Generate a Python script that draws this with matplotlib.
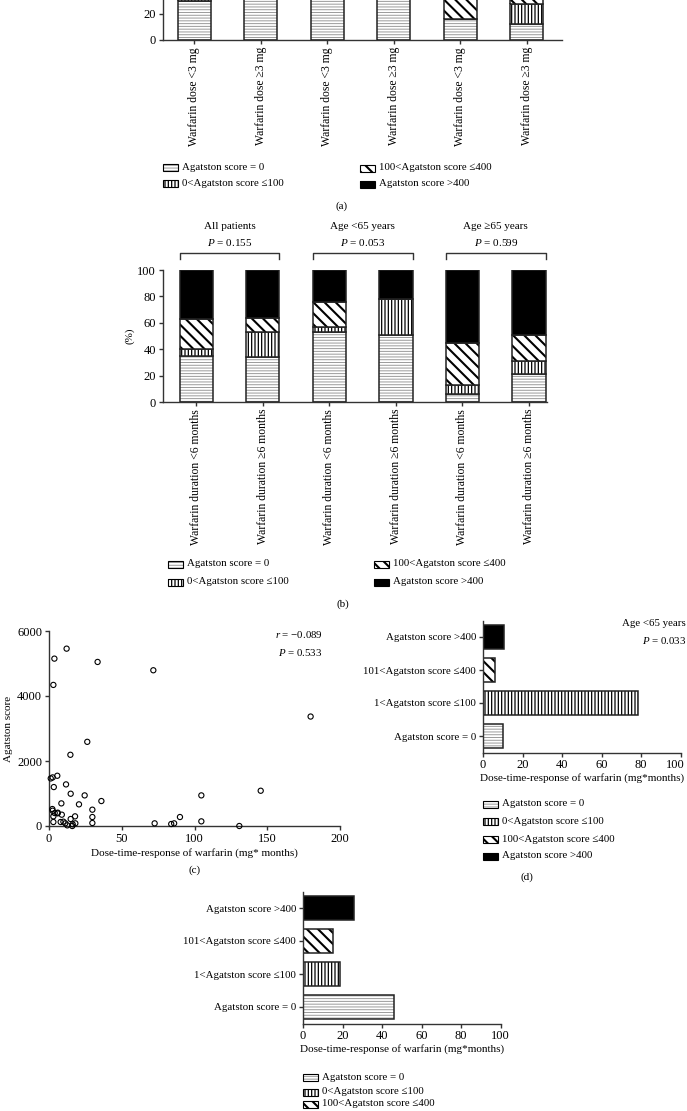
import matplotlib
matplotlib.use('Agg')
import matplotlib.pyplot as plt
from matplotlib.patches import Rectangle
from matplotlib.transforms import ScaledTranslation

# ---------------- data ----------------
a_labels = ["Warfarin dose <3 mg", "Warfarin dose \u22653 mg"] * 3
a_score0 = [30, 35, 45, 50, 16, 12]
a_score0_100 = [6, 15, 10, 20, 0, 15.5]
a_score100_400 = [24, 15, 20, 10, 30, 22]
a_score_gt400 = [40, 35, 25, 20, 54, 50.5]

b_labels = ["Warfarin duration <6 months", "Warfarin duration \u22656 months"] * 3
b_groups = ["All patients", "Age <65 years", "Age \u226565 years"]
b_pvalues = ["0.155", "0.053", "0.599"]
b_score0 = [35, 34, 53, 51, 6, 21]
b_score0_100 = [5, 19, 4, 27, 7, 10]
b_score100_400 = [23, 11, 19, 0, 32, 20]
b_score_gt400 = [37, 36, 24, 22, 55, 49]

c_x = [12.1, 3.7, 33.4, 3.0, 71.7, 179.8, 26.3, 14.7, 5.7, 2.5, 1.2, 3.3, 11.7, 14.9,
       24.5, 104.7, 145.5, 36.0, 20.6, 8.5, 29.8, 2.3, 2.5, 3.9, 5.9, 8.8, 3.0, 17.9,
       29.8, 90.0, 14.9, 3.0, 8.0, 9.9, 11.2, 29.8, 72.6, 104.7, 18.1, 16.3, 12.6, 16.0,
       84.0, 86.0, 130.8, 6.0]
c_y = [5457, 5150, 5048, 4341, 4792, 3368, 2590, 2191, 1546, 1495, 1464, 1198, 1280, 993,
       942, 942, 1085, 768, 666, 696, 502, 522, 471, 399, 389, 348, 297, 297,
       276, 276, 215, 123, 123, 133, 82, 92, 82, 143, 82, 51, 20, 0,
       61, 82, 0, 410]
c_r = "\u22120.089"
c_p = "0.533"

hb_cats = ["Agatston score = 0", "1<Agatston score \u2264100",
           "101<Agatston score \u2264400", "Agatston score >400"]
d_values = [10.2, 78.3, 5.9, 10.7]
e_values = [45.9, 18.7, 15.3, 25.8]
d_title = "Age <65 years"
d_p = "0.033"

legend_labels = ["Agatston score = 0", "0<Agatston score \u2264100",
                 "100<Agatston score \u2264400", "Agatston score >400"]

# ---------------- style ----------------
plt.rcParams['font.family'] = ['Liberation Serif', 'DejaVu Serif']
plt.rcParams['font.size'] = 7.8
plt.rcParams['mathtext.fontset'] = 'custom'
plt.rcParams['mathtext.rm'] = 'Liberation Serif'
plt.rcParams['mathtext.it'] = 'Liberation Serif:italic'

NUM_SIZE = 9
ROT_SIZE = 8.4

STY = [
    dict(face='white', hatch='------', hc='#9a9a9a', hlw=0.7),
    dict(face='white', hatch='|||||', hc='black', hlw=0.9),
    dict(face='white', hatch='\\\\\\', hc='black', hlw=1.5),
    dict(face='black', hatch=None, hc='black', hlw=1.0),
]

W, H = 687, 1111
fig = plt.figure(figsize=(W / 100, H / 100), dpi=100)


def add_ax(x0, x1, ytop, ybot):
    return fig.add_axes([x0 / W, 1 - ybot / H, (x1 - x0) / W, (ybot - ytop) / H])


def style_ax(ax):
    for s in ['top', 'right']:
        ax.spines[s].set_visible(False)
    for s in ['left', 'bottom']:
        ax.spines[s].set_linewidth(1.0)
        ax.spines[s].set_color('#333333')
    ax.tick_params(direction='out', length=3, width=1.0, color='#333333', pad=2)


def set_hlw(p, lw):
    if hasattr(p, 'set_hatch_linewidth'):
        p.set_hatch_linewidth(lw)


def stacked(ax, pos, vals, bottoms, st, width, horizontal=False):
    with plt.rc_context({'hatch.linewidth': st['hlw']}):
        if horizontal:
            bars = ax.barh(pos, vals, height=width, left=bottoms, color=st['face'],
                           edgecolor=st['hc'], linewidth=0, hatch=st['hatch'])
        else:
            bars = ax.bar(pos, vals, width=width, bottom=bottoms, color=st['face'],
                          edgecolor=st['hc'], linewidth=0, hatch=st['hatch'])
        for b in bars:
            set_hlw(b, st['hlw'])
    if horizontal:
        ax.barh(pos, vals, height=width, left=bottoms, fill=False, edgecolor='#222222', linewidth=1.1)
    else:
        ax.bar(pos, vals, width=width, bottom=bottoms, fill=False, edgecolor='#222222', linewidth=1.1)


def ftext(x, y, s, **kw):
    kw.setdefault('va', 'center')
    fig.text(x / W, 1 - y / H, s, **kw)


def legend_entry(x, y, st, text, size=7.8):
    with plt.rc_context({'hatch.linewidth': st['hlw']}):
        r = Rectangle((x / W, 1 - (y + 3.5) / H), 15 / W, 7 / H, transform=fig.transFigure,
                      facecolor=st['face'], edgecolor=st['hc'], linewidth=0, hatch=st['hatch'])
        set_hlw(r, st['hlw'])
    fig.add_artist(r)
    r2 = Rectangle((x / W, 1 - (y + 3.5) / H), 15 / W, 7 / H, transform=fig.transFigure,
                   fill=False, edgecolor='black', linewidth=0.8)
    fig.add_artist(r2)
    ftext(x + 19, y, text, fontsize=size)


def stacked_panel(ax, labels, series, yticks):
    pos = list(range(len(labels)))
    bottom = [0] * len(labels)
    for st, vals in zip(STY, series):
        stacked(ax, pos, vals, bottom, st, 0.5)
        bottom = [b + v for b, v in zip(bottom, vals)]
    ax.set_ylim(0, 100)
    ax.set_yticks(yticks)
    ax.tick_params(axis='y', labelsize=NUM_SIZE)
    ax.set_xticks(pos)
    ax.set_xticklabels(labels, rotation=90, fontsize=ROT_SIZE)
    style_ax(ax)


# ---------------- panel (a) ----------------
axa = add_ax(163, 562, -90, 40)
stacked_panel(axa, a_labels, [a_score0, a_score0_100, a_score100_400, a_score_gt400], [0, 20])
axa.set_xlim(-0.47, 5.53)
legend_entry(163, 167, STY[0], legend_labels[0])
legend_entry(163, 183, STY[1], legend_labels[1])
legend_entry(360, 168, STY[2], legend_labels[2])
legend_entry(360, 184, STY[3], legend_labels[3])
ftext(342, 206, "(a)", ha='center', fontsize=8)

# ---------------- panel (b) ----------------
axb = add_ax(163, 547, 270, 402)
stacked_panel(axb, b_labels, [b_score0, b_score0_100, b_score100_400, b_score_gt400],
              [0, 20, 40, 60, 80, 100])
axb.set_xlim(-0.5, 5.27)
axb.set_ylabel("(%)", fontsize=8)
axb.yaxis.set_label_coords(-0.073, 0.5)
for g, (name, p) in enumerate(zip(b_groups, b_pvalues)):
    x0, x1 = 2 * g - 0.25, 2 * g + 1.25
    axb.plot([x0, x0, x1, x1], [108.5, 113, 113, 108.5], color='#333333', lw=1.0, clip_on=False)
    axb.text(2 * g + 0.5, 133.3, name, ha='center', va='center', fontsize=8)
    axb.text(2 * g + 0.5, 121.2, "$P$ = " + p, ha='center', va='center', fontsize=8)
legend_entry(168, 564, STY[0], legend_labels[0])
legend_entry(168, 582, STY[1], legend_labels[1])
legend_entry(374, 564, STY[2], legend_labels[2])
legend_entry(374, 582, STY[3], legend_labels[3])
ftext(343, 604, "(b)", ha='center', fontsize=8)

# ---------------- panel (c) ----------------
axc = add_ax(49, 340, 631, 826)
axc.scatter(c_x, c_y, s=14, facecolors='none', edgecolors='black', linewidths=0.8, clip_on=False, zorder=3)
axc.set_xlim(0, 200)
axc.set_ylim(0, 6000)
axc.set_xticks([0, 50, 100, 150, 200])
axc.set_yticks([0, 2000, 4000, 6000])
style_ax(axc)
axc.tick_params(labelsize=NUM_SIZE)
axc.set_ylabel("Agatston score", fontsize=8)
axc.yaxis.set_label_coords(-0.125, 0.5)
axc.set_xlabel("Dose-time-response of warfarin (mg* months)", fontsize=8, labelpad=2)
ftext(323, 635, "$r$ = " + c_r, ha='right', fontsize=7.8)
ftext(322, 652, "$P$ = " + c_p, ha='right', fontsize=7.8)
ftext(195, 870, "(c)", ha='center', fontsize=8)


# ---------------- panels (d) and (e) ----------------
def hbar_panel(ax, vals):
    pos = list(range(len(hb_cats)))
    for i in pos:
        stacked(ax, [i], [vals[i]], [0], STY[i], 0.7, horizontal=True)
    ax.set_ylim(-0.5, 3.5)
    ax.set_xlim(0, 100)
    ax.set_xticks([0, 20, 40, 60, 80, 100])
    ax.set_yticks(pos)
    ax.set_yticklabels(hb_cats, fontsize=7.8)
    style_ax(ax)
    ax.tick_params(axis='x', labelsize=NUM_SIZE)
    ax.set_xlabel("Dose-time-response of warfarin (mg*months)", fontsize=8, labelpad=1)


axd = add_ax(483, 680.5, 620.5, 752.5)
hbar_panel(axd, d_values)
last = axd.get_xticklabels()[-1]
last.set_transform(last.get_transform() + ScaledTranslation(-4 / 72, 0, fig.dpi_scale_trans))
ftext(686, 623, d_title, ha='right', fontsize=7.8)
ftext(686, 640, "$P$ = " + d_p, ha='right', fontsize=7.8)
for i, y in enumerate([804, 821, 839, 856]):
    legend_entry(483, y, STY[i], legend_labels[i])
ftext(527, 877, "(d)", ha='center', fontsize=8)

axe = add_ax(303, 500.7, 891.5, 1023.5)
hbar_panel(axe, e_values)
for i, y in enumerate([1077, 1092, 1104]):
    legend_entry(303, y, STY[i], legend_labels[i])

fig.savefig("out.png", dpi=100)
